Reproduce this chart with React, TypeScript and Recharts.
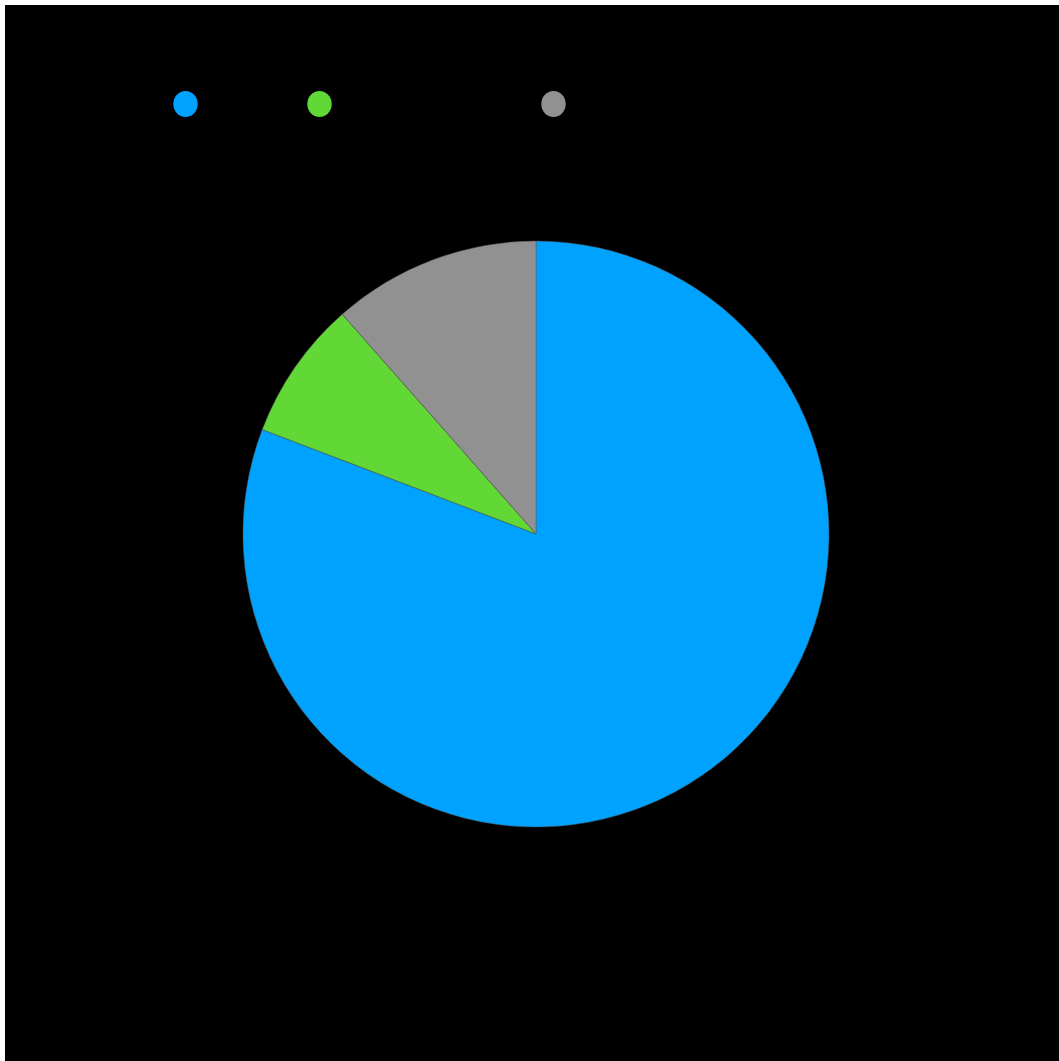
import React from 'react';
import { PieChart, Pie, Cell } from 'recharts';

const categories = ['Primary', 'Secondary', 'Other'];
const shares = [80.8, 7.7, 11.5];
const colors = ['#00a2ff', '#61d836', '#919191'];
// legend slots (label text is drawn in black, like the reference)
const legendSlots = [134, 234, 120];

const data = categories.map((name, i) => ({ name, value: shares[i] }));

const LegendRow = () => (
  <div style={{ position: 'absolute', left: 168, top: 86, display: 'flex', alignItems: 'center', height: 26 }}>
    {data.map((d, i) => (
      <div key={d.name} style={{ display: 'flex', alignItems: 'center', width: legendSlots[i] }}>
        <svg width={26} height={26} style={{ display: 'block' }}>
          <ellipse cx={12.5} cy={13} rx={12.2} ry={13} fill={colors[i]} />
        </svg>
        <span style={{ marginLeft: 10, color: '#000', fontFamily: 'Helvetica, Arial, sans-serif', fontSize: 18 }}>
          {d.name}
        </span>
      </div>
    ))}
  </div>
);

const App: React.FC = () => {
  return (
    <div style={{ position: 'absolute', left: 5, top: 5, width: 1054, height: 1056, background: '#000' }}>
      <PieChart width={1054} height={1056} margin={{ top: 0, right: 0, bottom: 0, left: 0 }}>
        <Pie
          data={data}
          dataKey="value"
          nameKey="name"
          cx={531}
          cy={529}
          outerRadius={293}
          startAngle={90}
          endAngle={-270}
          stroke="#555"
          strokeWidth={0.5}
          isAnimationActive={false}
        >
          {data.map((d, i) => (
            <Cell key={d.name} fill={colors[i]} />
          ))}
        </Pie>
      </PieChart>
      <LegendRow />
    </div>
  );
};

export default App;
